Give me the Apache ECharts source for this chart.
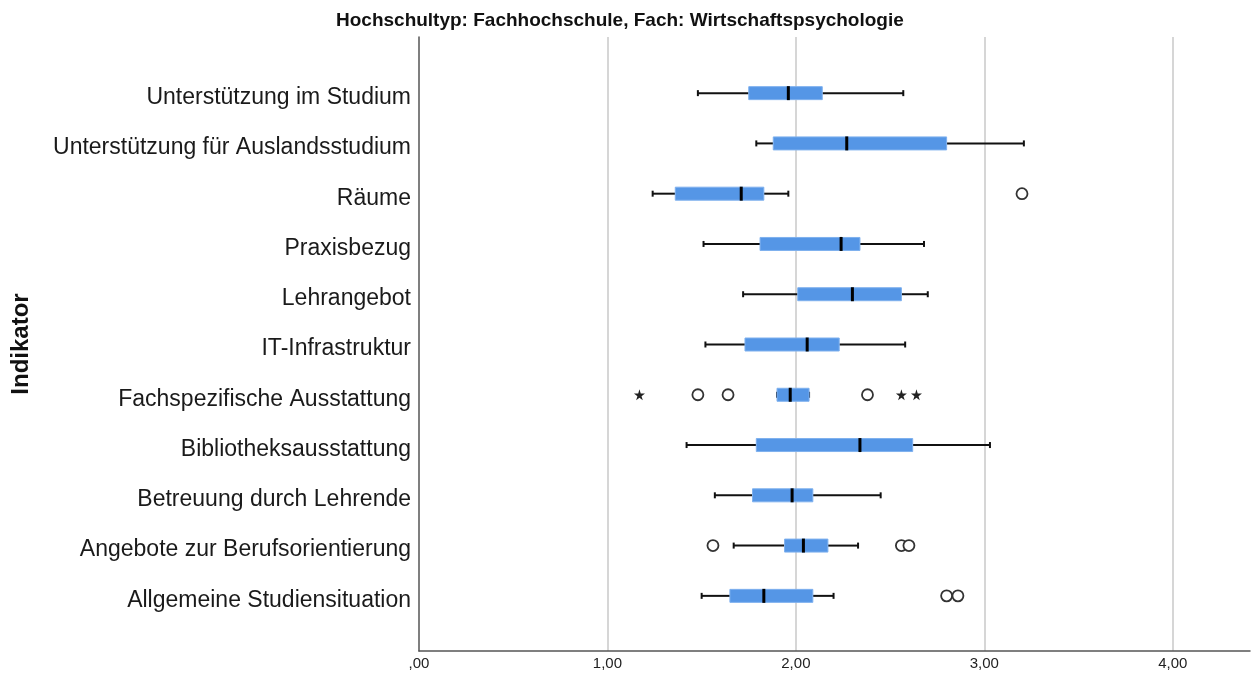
<!DOCTYPE html>
<html>
<head>
<meta charset="utf-8">
<script src="https://cdn.jsdelivr.net/npm/echarts@6/dist/echarts.min.js"></script>
<style>html,body{margin:0;padding:0;background:#fff}#c{width:1252px;height:679px}</style>
</head>
<body>
<div id="c"></div>
<script>
const categories = ['Unterstützung im Studium', 'Unterstützung für Auslandsstudium', 'Räume', 'Praxisbezug', 'Lehrangebot', 'IT-Infrastruktur', 'Fachspezifische Ausstattung', 'Bibliotheksausstattung', 'Betreuung durch Lehrende', 'Angebote zur Berufsorientierung', 'Allgemeine Studiensituation'];
const whiskerLow  = [1.48, 1.79, 1.24, 1.51, 1.72, 1.52, 1.90, 1.42, 1.57, 1.67, 1.50];
const q1          = [1.75, 1.88, 1.36, 1.81, 2.01, 1.73, 1.90, 1.79, 1.77, 1.94, 1.65];
const median      = [1.96, 2.27, 1.71, 2.24, 2.30, 2.06, 1.97, 2.34, 1.98, 2.04, 1.83];
const q3          = [2.14, 2.80, 1.83, 2.34, 2.56, 2.23, 2.07, 2.62, 2.09, 2.17, 2.09];
const whiskerHigh = [2.57, 3.21, 1.96, 2.68, 2.70, 2.58, 2.07, 3.03, 2.45, 2.33, 2.20];
// outliers: [value, row index]
const circleOutliers = [[3.20, 2], [1.48, 6], [1.64, 6], [2.38, 6], [1.56, 9], [2.56, 9], [2.60, 9], [2.80, 10], [2.86, 10]];
const starOutliers = [[1.17, 6], [2.56, 6], [2.64, 6]];
const xTicks = [0, 1, 2, 3, 4];
const xTickLabels = [',00', '1,00', '2,00', '3,00', '4,00'];
const xMin = 0, xMax = 4.41;
const titleText = 'Hochschultyp: Fachhochschule, Fach: Wirtschaftspsychologie';
const yName = 'Indikator';

const boxData = categories.map((c, i) => [i, whiskerLow[i], q1[i], median[i], q3[i], whiskerHigh[i]]);

const chart = echarts.init(document.getElementById('c'), null, {renderer: 'canvas'});
const sans = "'Liberation Sans', Arial, sans-serif";

function renderBox(params, api) {
  const cat = api.value(0);
  const pWL = api.coord([api.value(1), cat]);
  const pQ1 = api.coord([api.value(2), cat]);
  const pMed = api.coord([api.value(3), cat]);
  const pQ3 = api.coord([api.value(4), cat]);
  const pWH = api.coord([api.value(5), cat]);
  const y = pWL[1];
  const bh = 13;
  const ls = {stroke: '#111', lineWidth: 2};
  return {
    type: 'group',
    children: [
      {type: 'line', shape: {x1: pWL[0], y1: y, x2: pQ1[0], y2: y}, style: ls},
      {type: 'line', shape: {x1: pQ3[0], y1: y, x2: pWH[0], y2: y}, style: ls},
      {type: 'line', shape: {x1: pWL[0], y1: y - 3, x2: pWL[0], y2: y + 3}, style: ls},
      {type: 'line', shape: {x1: pWH[0], y1: y - 3, x2: pWH[0], y2: y + 3}, style: ls},
      {type: 'rect', shape: {x: pQ1[0], y: y - bh / 2, width: pQ3[0] - pQ1[0], height: bh},
        style: {fill: '#5596e6', stroke: '#7eb0ee', lineWidth: 1}},
      {type: 'rect', shape: {x: pMed[0] - 1.5, y: y - 7, width: 3, height: 14}, style: {fill: '#000'}}
    ]
  };
}

chart.setOption({
  animation: false,
  backgroundColor: '#fff',
  title: {
    text: titleText, left: 336, top: 11, padding: 0,
    textStyle: {fontFamily: sans, fontWeight: 'bold', fontSize: 19, color: '#111'}
  },
  grid: [
    {left: 419, right: 2, top: 37, bottom: 28},
    {left: 419, right: 2, top: 68, bottom: 58}
  ],
  xAxis: [
    {
      gridIndex: 0, type: 'value', min: xMin, max: xMax, interval: 1,
      axisLine: {show: true, lineStyle: {color: '#555', width: 1.5}},
      axisTick: {show: false},
      axisLabel: {
        margin: 5, fontFamily: sans, fontSize: 15, color: '#222', showMaxLabel: false,
        formatter: v => { const k = xTicks.indexOf(v); return k >= 0 ? xTickLabels[k] : ''; }
      },
      splitLine: {show: true, showMinLine: false, showMaxLine: false, lineStyle: {color: '#c8c8c8', width: 1.5}}
    },
    {gridIndex: 1, type: 'value', min: xMin, max: xMax, show: false}
  ],
  yAxis: [
    {
      gridIndex: 0, type: 'value', min: 0, max: 1,
      axisLine: {show: true, lineStyle: {color: '#555', width: 1.5}},
      axisTick: {show: false}, axisLabel: {show: false}, splitLine: {show: false},
      name: yName, nameLocation: 'middle', nameRotate: 90, nameGap: 386,
      nameTextStyle: {fontFamily: sans, fontWeight: 'bold', fontSize: 24, color: '#111'}
    },
    {
      gridIndex: 1, type: 'category', data: categories, inverse: true,
      axisLine: {show: false}, axisTick: {show: false}, splitLine: {show: false},
      axisLabel: {
        margin: 8, fontFamily: sans, fontSize: 23, color: '#1a1a1a',
        formatter: v => '{a|' + v + '}',
        rich: {a: {fontFamily: sans, fontSize: 23, color: '#1a1a1a', padding: [9, 0, 0, 0]}}
      }
    }
  ],
  series: [
    {
      type: 'custom', xAxisIndex: 1, yAxisIndex: 1, renderItem: renderBox,
      encode: {x: [1, 2, 3, 4, 5], y: 0}, data: boxData
    },
    {
      type: 'scatter', xAxisIndex: 1, yAxisIndex: 1, symbol: 'circle', symbolSize: 11,
      itemStyle: {color: '#fff', borderColor: '#333', borderWidth: 1.8, opacity: 1},
      data: circleOutliers
    },
    {
      type: 'scatter', xAxisIndex: 1, yAxisIndex: 1,
      symbol: 'path://M50,0 L61,35 L98,35 L68,57 L79,91 L50,70 L21,91 L32,57 L2,35 L39,35 Z',
      symbolSize: 11, itemStyle: {color: '#222', opacity: 1},
      data: starOutliers
    }
  ]
});
</script>
</body>
</html>
